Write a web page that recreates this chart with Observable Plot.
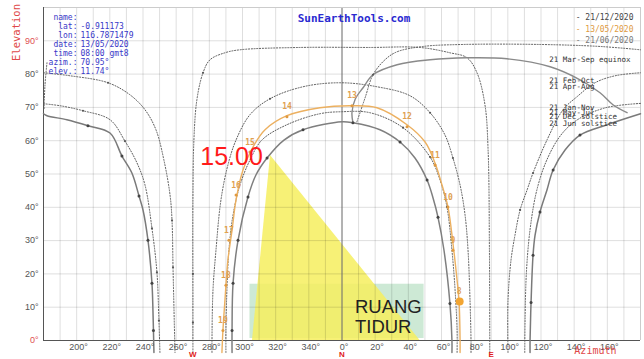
<!DOCTYPE html>
<html><head><meta charset="utf-8">
<script src="https://cdn.jsdelivr.net/npm/d3@7"></script>
<script src="https://cdn.jsdelivr.net/npm/@observablehq/plot@0.6"></script>
<style>html,body{margin:0;padding:0;background:#fff;} svg{display:block}</style>
</head><body><div id="chart"></div>
<script>
// Azimuth stored as signed degrees from North (west negative, east positive), elevation in degrees
const decLeft = [[-180,68.1],[-177.9,67.5],[-165.9,66.3],[-153.2,64.5],[-139.9,62.3],[-132.7,55.4],[-126.7,50.3],[-122.4,43.4],[-120,39.2],[-117,30.1],[-114.6,17.2],[-114,9],[-113.7,3],[-113.4,-3.6]];
const decRight = [[113.4,-3.6],[113.4,0],[114,11.4],[115.2,25.6],[116.4,31.6],[119.4,38.6],[123.6,45.2],[127.3,51.2],[134.5,57.2],[143.5,61.7],[159.8,64.8],[180,68.1]];
const janLeft = [[-180,71.1],[-170,70.5],[-156.2,69],[-139.9,66.3],[-130.9,59.9],[-123.6,53.3],[-118.8,46.7],[-114.6,33.7],[-111.6,20.5],[-110.4,6],[-109.8,-3.6]];
const janRight = [[110.2,-3.6],[110.4,6],[111.2,20.5],[113.5,33.7],[117.5,45.2],[123.5,54.2],[132,61.7],[142,66.3],[159,69.9],[180,71.2]];
const febLeft = [[-180,80.4],[-164,79.5],[-141.1,77.4],[-127.9,73.8],[-118.8,69.3],[-112.2,63.3],[-107.4,54.2],[-103.7,43.7],[-102.5,36.1],[-101.9,22],[-101.3,9],[-100.7,-3.6]];
const febRight = [[100.1,-3.6],[100.1,12],[101.9,24.1],[104.3,31.6],[107.4,39.2],[111.6,45.2],[115.2,50.3],[123.6,60.2],[133.3,69.3],[141.7,73.2],[152.6,77.4],[164.7,79.5],[180,80.4]];
const equinox = [[-89.9,-3.6],[-89.9,12],[-89.9,42.2],[-89.3,60.2],[-87.5,72.3],[-83.8,80.4],[-79.6,84.3],[-70.6,86.4],[-61.5,87.3],[-25.3,88],[16.9,88],[47,88],[65.1,86.4],[75.4,84.9],[81.4,80.4],[86.2,70.8],[88.1,57.2],[88.9,27.1],[89.1,-3.6]];
const aprAug = [[-78.4,-3.6],[-78.4,0],[-77.8,15.1],[-76,27.1],[-73,42.2],[-68.8,52.7],[-63.9,60.2],[-55.5,67.8],[-43.4,72.6],[-23.5,76.2],[-1.2,77.4],[21.1,76.2],[41,73.5],[53.1,68.4],[62.1,61.7],[66.9,54.8],[71.2,46.7],[74.2,37.7],[76,27.1],[77.2,12],[77.8,0],[77.8,-3.6]];
const mayJul = [[-70,-3.6],[-70,3],[-69.4,15.1],[-68.2,27.1],[-65.7,37.7],[-61.5,46.7],[-55.5,54.2],[-48.3,60.2],[-33.2,64.8],[-13.3,68.1],[0,68.7],[16.9,68.4],[36.8,63.9],[53.1,55.1],[59.1,48.2],[63.3,40.1],[66.3,27.1],[68.2,15.1],[69.4,3],[69.4,-3.6]];
const june = [[-66.3,-3.6],[-66.3,3],[-65.7,17.2],[-62.7,30.1],[-56.7,43.1],[-51.9,49.7],[-45.2,54.8],[-35,60.2],[-23.5,63.3],[0,65.7],[6.6,65.4],[22.9,63.3],[35,59.6],[44,54.8],[51.3,48.2],[54.9,42.8],[57.9,37],[61.5,27.1],[65.1,11.1],[66.3,0],[66.3,-3.6]];
const may13 = [[-72.4,-3.6],[-71.8,3],[-70.6,12],[-68.8,24.1],[-66.3,33.1],[-63.9,42.2],[-59.7,51.2],[-53.7,58.1],[-46.4,63.3],[-33.2,67.5],[-13.3,69.9],[6,70.5],[21.1,69.9],[39.2,64.8],[50.1,59.6],[56.1,53.3],[60.3,46.7],[63.9,40.1],[66.9,29.2],[69.4,18.1],[70.6,11.7],[71.2,0],[71.2,-3.6]];
const hourLineSolid = [[6.6,65.4],[6,68.4],[8,72.5],[12.7,75.9],[18.7,79.8],[33.2,82.8],[53.1,84.3],[75.4,84.9],[99.5,84.6],[125.5,82.2],[143.5,78.3],[155.6,74.4],[163.4,70.8],[171.9,68.4]];
const hourLineDotted = [[9,65.7],[14,73],[18.7,79.8],[25.9,84.3],[33.2,86.7],[48.9,88.3],[73,88.9],[119.4,88.9],[155.6,88.3],[180,87.3]];
const edgeDotted = [[-177.9,83.4],[-179.1,76.8],[-179.7,69.3]];

const decDots = [[-153.2,64.5],[-132.7,55.4],[-122.4,43.4],[-117,30.1],[-114.6,17.2],[-113.7,3],[114,11.4],[115.2,25.6],[119.4,38.6],[127.3,51.2],[143.5,61.7]];
const junDots = [[-66.3,3],[-65.7,17.2],[-62.7,30.1],[-56.7,43.1],[-45.2,54.8],[-23.5,63.3],[6.6,65.4],[35,59.6],[51.3,48.2],[57.9,37],[65.1,11.1]];
const otherDots = [[-141.1,77.4],[-102.5,36.1],[-101.9,22],[107.4,39.2],[115.2,50.3],[-156.2,69],[-130.9,59.9],[-114.6,33.7],[-111.6,20.5],[-110.4,6],[-43.4,72.6],[53.1,68.4],[66.9,54.8],[-89.9,20],[-89.9,5.4],[-83.8,80.4],[36.8,63.9],[53.1,55.1],[63.3,40.1],[18.7,79.8]];
const mayHours = [19,18,17,16,15,14,13,12,11,10,9,8];
const mayHourAz = [-71.8,-70,-68.2,-63.9,-55.5,-33.2,6,39.2,56.1,63.9,66.9,70.6];
const mayHourEl = [3.0,16.6,30.1,43.7,56.6,67.2,70.5,64.2,52.7,40.1,27.1,11.7];
const currentSun = {az: 70.95, el: 11.74};

const xTickValues = [200,220,240,260,280,300,320,340,0,20,40,60,80,100,120,140,160];
const yTickValues = [0,10,20,30,40,50,60,70,80,90];
const compassLetters = ["W","N","E"];
const compassAz = [270,0,90];
const infoLabels = ["name:","lat:","lon:","date:","time:","azim.:","elev.:"];
const infoValues = ["","-0.911173","116.7871479","13/05/2020","08:00 gmt8","70.95°","11.74°"];
const legendDates = ["- 21/12/2020","- 13/05/2020","- 21/06/2020"];
const dateLabels = ["21 Mar-Sep equinox","21 Feb-Oct","21 Apr-Aug","21 Jan-Nov","21 May-Jul","21 Dec solstice","21 Jun solstice"];
const dateLabelEl = [84.3,78,76.2,69.9,68.4,67.2,65.1];
const dateLabelAz = 125;
// annotations (in chart units)
const lampTriangle = [[-43.4,55.7],[-54.3,0],[47,0]];
const roomRect = [{a1:-55.5,a2:49.5,e1:0.6,e2:16.9}];
const roomText = ["RUANG","TIDUR"];
const roomTextEl = [9.9,3.9];
const roomTextAz = 7.8;
const timeNote = {text:"15.00", az:-66.6, el:55.1};

const signed = a => a > 180 ? a - 360 : a;
const MONO = "DejaVu Sans Mono, monospace";
const SANS = "Liberation Sans, Arial, sans-serif";
const X = d => d[0], Y = d => d[1];
const dotted = {x: X, y: Y, stroke: "#5a5a5a", strokeWidth: 1, strokeDasharray: "1.1,1.7", curve: "catmull-rom"};

const chart = Plot.plot({
  width: 644, height: 359,
  marginLeft: 43, marginRight: 4, marginTop: 7, marginBottom: 19,
  x: {domain: [-180, 180], axis: null},
  y: {domain: [0, 100], axis: null},
  style: {background: "#fff", fontFamily: SANS},
  marks: [
    Plot.rect(roomRect, {x1: "a1", x2: "a2", y1: "e1", y2: "e2", fill: "#cde9d5"}),
    Plot.line(lampTriangle, {x: X, y: Y, fill: "#f6ef5e", fillOpacity: 0.85, stroke: "none", curve: "linear-closed"}),
    Plot.ruleX(d3.range(-170, 180, 10), {stroke: "#000", strokeOpacity: 0.13}),
    Plot.ruleY(d3.range(10, 100, 10), {stroke: "#000", strokeOpacity: 0.13}),
    Plot.ruleX([0], {stroke: "#777"}),
    Plot.ruleY([100], {stroke: "#ccc"}),
    Plot.ruleX([180], {stroke: "#ccc"}),
    Plot.ruleX([-180], {stroke: "#555"}),
    Plot.ruleY([0], {stroke: "#555"}),
    // date paths
    Plot.line(febLeft, dotted), Plot.line(febRight, dotted),
    Plot.line(janLeft, dotted), Plot.line(janRight, dotted),
    Plot.line(equinox, dotted), Plot.line(aprAug, dotted), Plot.line(mayJul, dotted),
    Plot.line(hourLineDotted, dotted), Plot.line(edgeDotted, dotted),
    Plot.line(hourLineSolid, {x: X, y: Y, stroke: "#8a8a8a", strokeWidth: 1.4, curve: "catmull-rom"}),
    Plot.line(decLeft, {x: X, y: Y, stroke: "#7a7a7a", strokeWidth: 1.5, curve: "catmull-rom"}),
    Plot.line(decRight, {x: X, y: Y, stroke: "#7a7a7a", strokeWidth: 1.5, curve: "catmull-rom"}),
    Plot.line(june, {x: X, y: Y, stroke: "#7f7f7f", strokeWidth: 1.5, curve: "catmull-rom"}),
    Plot.line(may13, {x: X, y: Y, stroke: "#ecb060", strokeWidth: 1.4, curve: "catmull-rom"}),
    Plot.dot(otherDots, {x: X, y: Y, r: 1.1, fill: "#555"}),
    Plot.dot(decDots.concat(junDots), {x: X, y: Y, r: 1.5, fill: "#444"}),
    Plot.dot(mayHours, {x: (d, i) => mayHourAz[i], y: (d, i) => mayHourEl[i], r: 1.5, fill: "#e09a40"}),
    Plot.text(mayHours, {x: (d, i) => mayHourAz[i], y: (d, i) => mayHourEl[i], text: d => String(d), dy: -10, fill: "#e0a050", fontSize: 8, fontWeight: "bold", fontFamily: MONO}),
    Plot.dot([currentSun], {x: "az", y: "el", r: 4, fill: "#f2a532"}),
    // annotations
    Plot.text(roomText, {x: roomTextAz, y: (d, i) => roomTextEl[i], text: d => d, textAnchor: "start", fontSize: 18.5, fill: "#222", fontFamily: SANS}),
    Plot.text([timeNote], {x: "az", y: "el", text: "text", fontSize: 25, fill: "#ff1a1a", fontFamily: SANS}),
    // axes labels
    Plot.text(xTickValues, {x: d => signed(d), y: 0, text: d => d + "°", dy: 7, dx: 2, fontSize: 9, fill: "#555", fontFamily: SANS}),
    Plot.text(yTickValues.filter(d => d !== 0 && d !== 90), {x: -180, y: d => d, text: d => d + "°", dx: -5, textAnchor: "end", fontSize: 9, fill: "#555", fontFamily: SANS}),
    Plot.text(yTickValues.filter(d => d === 0 || d === 90), {x: -180, y: d => d, text: d => d + "°", dx: -5, textAnchor: "end", fontSize: 9, fill: "#e05050", fontFamily: SANS}),
    Plot.text(compassLetters, {x: (d, i) => signed(compassAz[i]), y: 0, text: d => d, dy: 14, fontSize: 8, fontWeight: "bold", fill: "#e02020", fontFamily: SANS}),
    Plot.text(["Elevation"], {x: -196.3, y: 92.5, rotate: -90, text: d => d, fontSize: 10.5, fill: "#e04848", fontFamily: MONO}),
    Plot.text(["Azimuth"], {frameAnchor: "bottom-right", dx: -24, dy: 13, text: d => d, fontSize: 10, fill: "#e04848", fontFamily: MONO}),
    // info block
    Plot.text([infoLabels.join("\n")], {frameAnchor: "top-left", lineAnchor: "top", textAnchor: "end", dx: 34, dy: 6, lineHeight: 1.125, fontSize: 8, fill: "#3838c8", fontFamily: MONO}),
    Plot.text([infoValues.join("\n")], {frameAnchor: "top-left", lineAnchor: "top", textAnchor: "start", dx: 37, dy: 6, lineHeight: 1.125, fontSize: 8, fill: "#3838c8", fontFamily: MONO}),
    Plot.text(["SunEarthTools.com"], {frameAnchor: "top", lineAnchor: "middle", dx: 12, dy: 11, text: d => d, fontSize: 11, fontWeight: "bold", fill: "#2a2ad0", fontFamily: MONO}),
    // legend
    Plot.text([legendDates[0]], {frameAnchor: "top-right", lineAnchor: "middle", textAnchor: "end", dx: -7, dy: 10, text: d => d, fontSize: 8, fill: "#444", fontFamily: MONO}),
    Plot.text([legendDates[1]], {frameAnchor: "top-right", lineAnchor: "middle", textAnchor: "end", dx: -7, dy: 22, text: d => d, fontSize: 8, fill: "#e09a40", fontFamily: MONO}),
    Plot.text([legendDates[2]], {frameAnchor: "top-right", lineAnchor: "middle", textAnchor: "end", dx: -7, dy: 33, text: d => d, fontSize: 8, fill: "#777", fontFamily: MONO}),
    Plot.text(dateLabels, {x: dateLabelAz, y: (d, i) => dateLabelEl[i], text: d => d, textAnchor: "start", fontSize: 7.5, fill: "#333", fontFamily: MONO})
  ]
});
document.getElementById("chart").appendChild(chart);
</script></body></html>
